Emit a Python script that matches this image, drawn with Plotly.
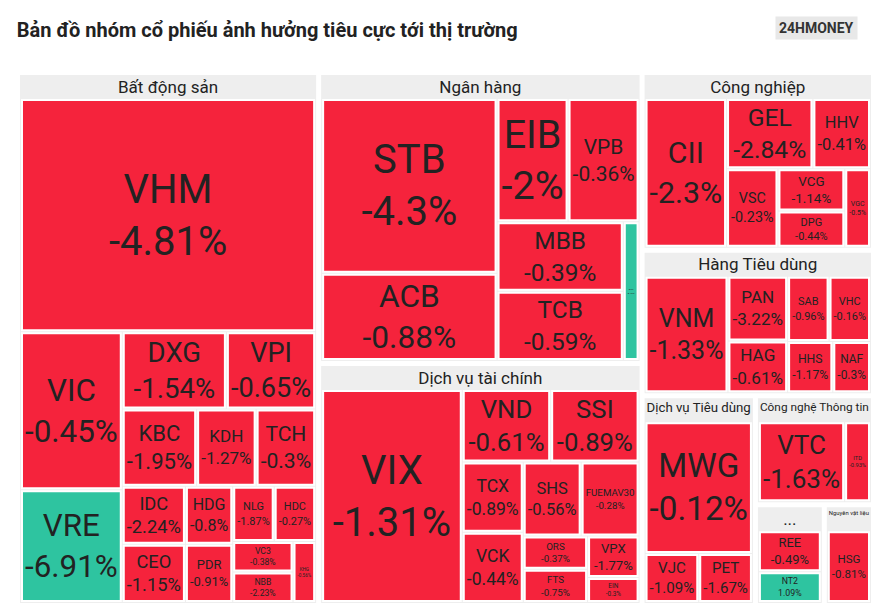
import plotly.graph_objects as go

sectors = ["Ngân hàng", "Bất động sản", "Dịch vụ tài chính", "Công nghiệp", "Hàng Tiêu dùng",
           "Dịch vụ Tiêu dùng", "Công nghệ Thông tin", "Nguyên vật liệu", "..."]
stocks = {
    "Ngân hàng": [("STB", -4.3, 14), ("ACB", -0.88, 7), ("EIB", -2.0, 4), ("VPB", -0.36, 4), ("MBB", -0.39, 4), ("TCB", -0.59, 4), ("DTP", 8.42, 1)],
    "Bất động sản": [("VHM", -4.81, 30), ("VIC", -0.45, 7), ("VRE", -6.91, 5), ("DXG", -1.54, 3.5), ("KBC", -1.95, 2.5), ("VPI", -0.65, 3), ("KDH", -1.27, 2), ("TCH", -0.3, 2), ("IDC", -2.24, 1.6), ("CEO", -1.15, 1.6), ("HDG", -0.8, 1.2), ("PDR", -0.91, 1.2), ("NLG", -1.87, 1), ("HDC", -0.27, 1), ("VC3", -0.38, 0.8), ("NBB", -2.23, 0.8), ("KHG", -0.56, 0.6)],
    "Dịch vụ tài chính": [("VIX", -1.31, 14), ("VND", -0.61, 3), ("SSI", -0.89, 3), ("TCX", -0.89, 2), ("VCK", -0.44, 2), ("SHS", -0.56, 2), ("FUEMAV30", -0.28, 2), ("ORS", -0.37, 1), ("FTS", -0.75, 1), ("VPX", -1.77, 1), ("EIN", -0.3, 0.6)],
    "Công nghiệp": [("CII", -2.3, 6), ("GEL", -2.84, 3), ("HHV", -0.41, 2), ("VSC", -0.23, 2), ("VCG", -1.14, 1.4), ("DPG", -0.44, 1.2), ("VGC", -0.5, 1)],
    "Hàng Tiêu dùng": [("VNM", -1.33, 5), ("PAN", -3.22, 2), ("HAG", -0.61, 1.6), ("SAB", -0.96, 1.4), ("VHC", -0.16, 1.4), ("HHS", -1.17, 1.2), ("NAF", -0.3, 1)],
    "Dịch vụ Tiêu dùng": [("MWG", -0.12, 7), ("VJC", -1.09, 1.3), ("PET", -1.67, 1.3)],
    "Công nghệ Thông tin": [("VTC", -1.63, 4), ("ITD", -0.93, 1.2)],
    "Nguyên vật liệu": [("HSG", -0.81, 2)],
    "...": [("REE", -0.49, 1.6), ("NT2", 1.09, 1.2)],
}

ids, labels, parents, values, colors, texts = ["root"], [""], [""], [0], ["white"], [""]
for s in sectors:
    ids.append(s); labels.append(s); parents.append("root"); values.append(0)
    colors.append("#eeeeee"); texts.append("")
    for tk, ch, w in stocks[s]:
        ids.append(s + "/" + tk); labels.append(tk); parents.append(s); values.append(w)
        colors.append("#2ec4a0" if (ch > 0 or tk == "VRE") else "#f5233c")
        texts.append(f"{ch:g}%")

fig = go.Figure(go.Treemap(
    ids=ids, labels=labels, parents=parents, values=values, text=texts,
    texttemplate="%{label}<br>%{text}",
    marker=dict(colors=colors, line=dict(color="white", width=2), pad=dict(t=26, l=3, r=3, b=3)),
    textfont=dict(family="Roboto", size=40, color="#222"),
    textposition="middle center",
    tiling=dict(pad=3), pathbar=dict(visible=False),
    outsidetextfont=dict(size=20, color="#333"),
    sort=True,
))
fig.update_layout(
    width=881, height=607, margin=dict(l=8, r=14, t=40, b=8),
    paper_bgcolor="white",
    title=dict(text="<b>Bản đồ nhóm cổ phiếu ảnh hưởng tiêu cực tới thị trường</b>", x=0.01, y=0.975,
               font=dict(family="Roboto", size=20, color="#222")),
    annotations=[dict(text="<b>24HMONEY</b>", x=0.98, y=1.0, xref="paper", yref="paper",
                      xanchor="right", yanchor="bottom", yshift=8, showarrow=False,
                      font=dict(family="Roboto", size=14, color="#333"),
                      bgcolor="#e8e8e8", borderpad=3)],
)
fig.write_html("out.html")
